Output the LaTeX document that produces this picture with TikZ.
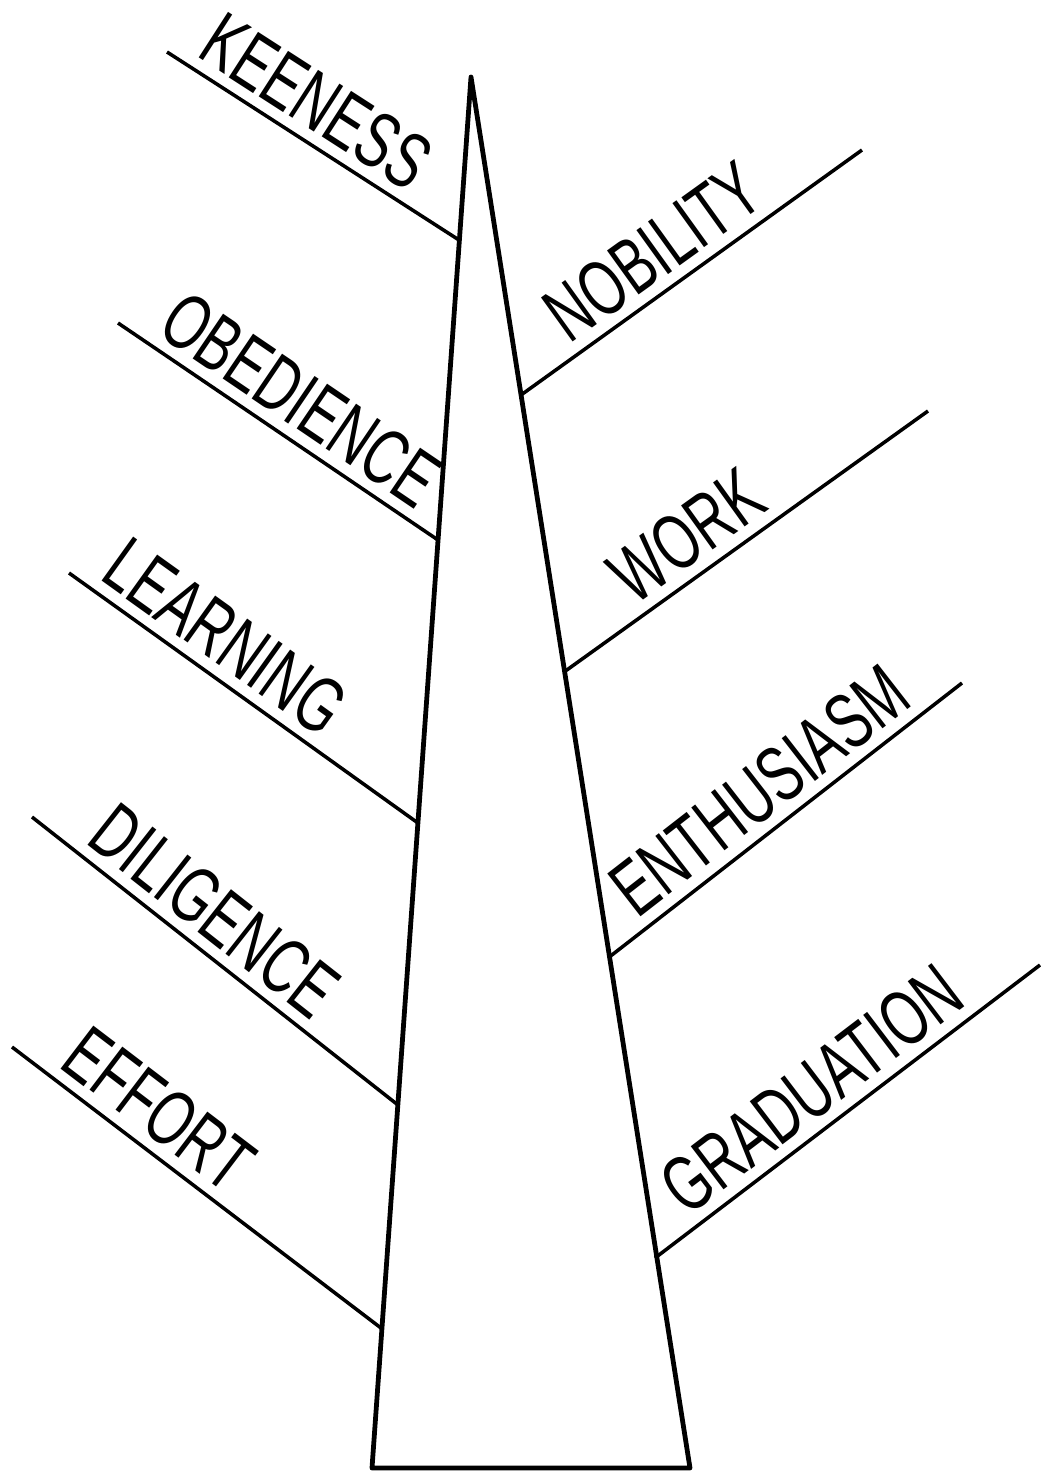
\documentclass[tikz,border=0pt]{standalone}
\usepackage{fontspec}
\setmainfont[FakeStretch=0.68]{Liberation Sans}
\usetikzlibrary{positioning}

\begin{document}
\begin{tikzpicture}[x=0.025cm,y=-0.025cm,
  spire/.style={draw=black,line width=3.4pt,line join=round},
  branch/.style={draw=black,line width=2.5pt},
  lbl/.style={sloped,anchor=south west,inner xsep=0pt,inner ysep=7pt,
              font=\fontsize{56}{64}\selectfont}]
\useasboundingbox (0,0) rectangle (1040,1474);

% the spire
\coordinate (apex) at (471,77);
\coordinate (bl) at (372,1468);
\coordinate (br) at (690,1468);
\draw[spire] (apex) -- (bl) -- (br) -- cycle;

% left side
\coordinate (k0) at (167,52);  \coordinate (k1) at (459,240);
\coordinate (o0) at (118,323); \coordinate (o1) at (438,540);
\coordinate (l0) at (69,573);  \coordinate (l1) at (418,823);
\coordinate (d0) at (32,817);  \coordinate (d1) at (398,1105);
\coordinate (e0) at (12,1047); \coordinate (e1) at (381,1328);
\draw[branch] (k0) -- (k1) node[lbl,pos=0.07] (keen) {KEENESS};
\draw[branch] (o0) -- (o1) node[lbl,pos=0.09] (obed) {OBEDIENCE};
\draw[branch] (l0) -- (l1) node[lbl,pos=0.06] (lear) {LEARNING};
\draw[branch] (d0) -- (d1) node[lbl,pos=0.12] (dili) {DILIGENCE};
\draw[branch] (e0) -- (e1) node[lbl,pos=0.10] (effo) {EFFORT};

% right side
\coordinate (n0) at (521,395); \coordinate (n1) at (862,150);
\coordinate (w0) at (564,672); \coordinate (w1) at (928,411);
\coordinate (h0) at (608,958); \coordinate (h1) at (962,683);
\coordinate (g0) at (655,1258);\coordinate (g1) at (1040,965);
\draw[branch] (n0) -- (n1) node[lbl,pos=0.16] (nobi) {NOBILITY};
\draw[branch] (w0) -- (w1) node[lbl,pos=0.21] (work) {WORK};
\draw[branch] (h0) -- (h1) node[lbl,pos=0.10] (enth) {ENTHUSIASM};
\draw[branch] (g0) -- (g1) node[lbl,pos=0.10] (grad) {GRADUATION};
\end{tikzpicture}
\end{document}
